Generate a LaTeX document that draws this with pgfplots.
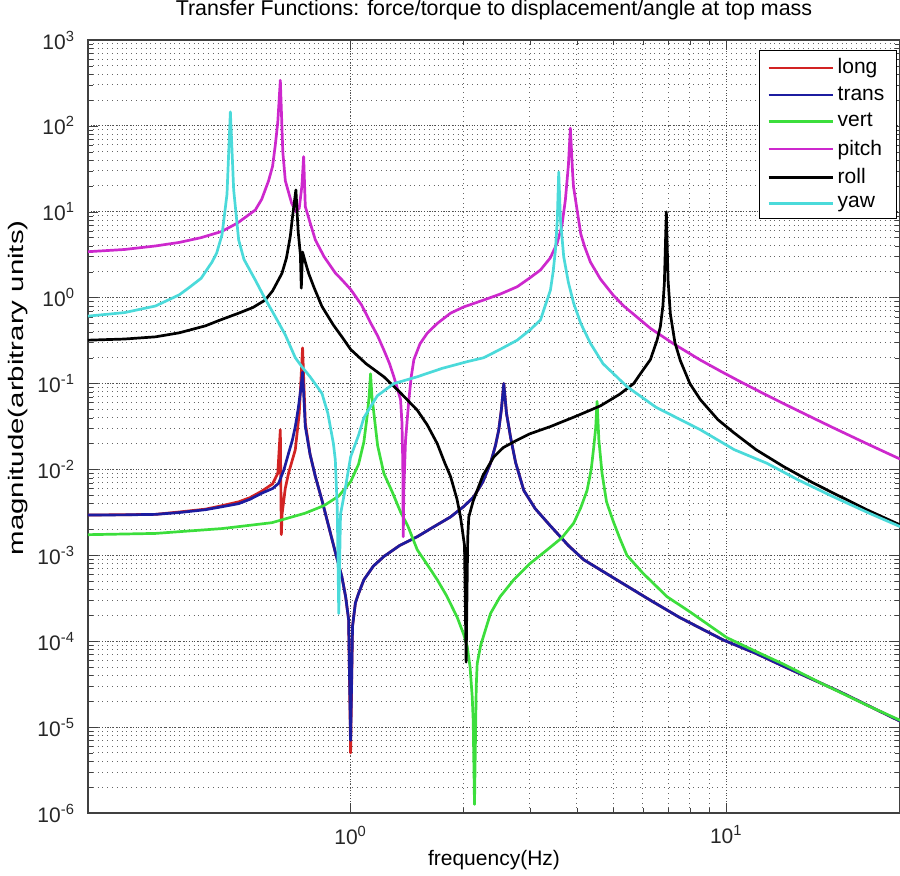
\documentclass[border=0pt]{standalone}
\usepackage{fontspec}
\setmainfont{Liberation Sans}
\usepackage{pgfplots}
\pgfplotsset{compat=1.18}
\definecolor{clong}{RGB}{210,35,35}
\definecolor{ctrans}{RGB}{28,28,160}
\definecolor{cvert}{RGB}{60,222,60}
\definecolor{cpitch}{RGB}{205,40,205}
\definecolor{croll}{RGB}{0,0,0}
\definecolor{cyaw}{RGB}{75,218,218}
\begin{document}
\begin{tikzpicture}
\begin{loglogaxis}[
  scale only axis,
  width=406pt, height=386.5pt,
  xmin=0.2, xmax=29, ymin=1e-6, ymax=1e3,
  xtick={1,10},
  ytick={1e-6,1e-5,1e-4,1e-3,1e-2,1e-1,1,10,100,1000},
  grid=both,
  major grid style={densely dotted, black!70, line width=0.5pt},
  minor grid style={dotted, black!60, line width=0.5pt},
  tick align=inside,
  axis line style={black!75, line width=0.8pt},
  major tick length=5pt, minor tick length=2.5pt,
  tick style={black!75},
  xticklabel={\pgfmathparse{int(round(\tick/ln(10)))}10\textsuperscript{\pgfmathresult}},
  yticklabel={\pgfmathparse{int(round(\tick/ln(10)))}10\textsuperscript{\pgfmathresult}},
  ticklabel style={font=\fontsize{10.5}{12}\selectfont, text=black!85},
  xticklabel style={anchor=center, yshift=-11pt},
  yticklabel style={anchor=east, xshift=-3pt},
  title={Transfer Functions: force/torque to displacement/angle at top mass},
  title style={font=\fontsize{10.7}{12}\selectfont, at={(axis description cs:0.5,1.0233)}, anchor=center},
  xlabel={frequency(Hz)},
  xlabel style={font=\fontsize{10.5}{12}\selectfont, at={(axis description cs:0.5,-0.0608)}, anchor=center},
  ylabel={magnitude(arbitrary units)},
  ylabel style={font=\fontsize{10.5}{12}\selectfont, at={(axis description cs:-0.0862,0.55)}, anchor=center, xscale=1.4},
  legend style={at={(1,1)}, anchor=north east, xshift=-1.5pt, yshift=-5pt,
    draw=black, line width=0.6pt, fill=white, font=\fontsize{10.5}{12}\selectfont,
    inner xsep=4pt, inner ysep=2pt, row sep=1pt},
  legend cell align=left,
  legend image code/.code={\draw[#1, line width=1.2pt] (0pt,0pt) -- (32pt,0pt);},
  every axis plot/.append style={line width=1.35pt, line join=round},
]
\addplot[clong] coordinates {(0.2,2.95e-3) (0.25,2.97e-3) (0.3024,3.0e-3) (0.35,3.2e-3) (0.4108,3.45e-3) (0.45,3.75e-3) (0.5036,4.2e-3) (0.54,4.7e-3) (0.5807,5.6e-3) (0.62,6.8e-3) (0.64,9e-3) (0.6501,2.9e-2) (0.6525,5e-3) (0.6542,1.74e-3) (0.657,3e-3) (0.67,6e-3) (0.684,9.1e-3) (0.7126,1.7e-2) (0.73,4.5e-2) (0.7452,0.26) (0.7577,3.5e-2) (0.78,1.5e-2) (0.8057,8.3e-3) (0.84,4.3e-3) (0.8738,2.2e-3) (0.91,1.1e-3) (0.9482,5.6e-4) (0.97,3.3e-4) (0.9878,1.8e-4) (1.0,5e-6) (1.012,1.5e-4) (1.03,2.8e-4) (1.0502,3.6e-4) (1.0849,5.2e-4) (1.15,7.5e-4) (1.2261,9.7e-4) (1.35,1.3e-3) (1.5047,1.65e-3) (1.68,2.2e-3) (1.845,2.8e-3) (2.0,3.7e-3) (2.128,4.8e-3) (2.25,7.2e-3) (2.3569,1.18e-2) (2.43,1.9e-2) (2.4799,2.9e-2) (2.52,5e-2) (2.5571,0.1) (2.6,4.5e-2) (2.6642,2.4e-2) (2.75,1.2e-2) (2.8907,5.7e-3) (3.1,3.5e-3) (3.4041,2.2e-3) (3.8,1.3e-3) (4.173,8.9e-4) (5.0,5.5e-4) (6.2806,3.0e-4) (7.5,1.9e-4) (9.836,1.03e-4) (12,7.2e-5) (14.21,5.1e-5) (20,2.6e-5) (29.03,1.17e-5)};
\addlegendentry{long}
\addplot[ctrans] coordinates {(0.2,2.95e-3) (0.25,2.96e-3) (0.3024,3.0e-3) (0.35,3.15e-3) (0.4108,3.4e-3) (0.45,3.65e-3) (0.5036,4.0e-3) (0.54,4.5e-3) (0.5807,5.3e-3) (0.62,6.0e-3) (0.6433,6.9e-3) (0.665,1.0e-2) (0.684,1.55e-2) (0.70,2.2e-2) (0.7126,3.16e-2) (0.725,5e-2) (0.738,9e-2) (0.7452,0.136) (0.7577,3.16e-2) (0.78,1.5e-2) (0.8057,8.3e-3) (0.84,4.3e-3) (0.8738,2.2e-3) (0.91,1.1e-3) (0.9482,5.6e-4) (0.97,3.3e-4) (0.9878,1.8e-4) (1.0,7e-6) (1.012,1.5e-4) (1.03,2.8e-4) (1.0502,3.6e-4) (1.0849,5.2e-4) (1.15,7.5e-4) (1.2261,9.7e-4) (1.35,1.3e-3) (1.5047,1.65e-3) (1.68,2.2e-3) (1.845,2.8e-3) (2.0,3.7e-3) (2.128,4.8e-3) (2.25,7.2e-3) (2.3569,1.18e-2) (2.43,1.9e-2) (2.4799,2.9e-2) (2.52,5e-2) (2.5571,0.1) (2.6,4.5e-2) (2.6642,2.4e-2) (2.75,1.2e-2) (2.8907,5.7e-3) (3.1,3.5e-3) (3.4041,2.2e-3) (3.8,1.3e-3) (4.173,8.9e-4) (5.0,5.5e-4) (6.2806,3.0e-4) (7.5,1.9e-4) (9.836,1.03e-4) (12,7.2e-5) (14.21,5.1e-5) (20,2.6e-5) (29.03,1.17e-5)};
\addlegendentry{trans}
\addplot[cvert] coordinates {(0.2,1.74e-3) (0.3024,1.8e-3) (0.4547,2.05e-3) (0.6174,2.4e-3) (0.7577,3.1e-3) (0.85,3.8e-3) (0.93,4.9e-3) (1.0,7.2e-3) (1.05,1.15e-2) (1.085,2.1e-2) (1.1076,4.3e-2) (1.12,7e-2) (1.1303,0.13) (1.14,7e-2) (1.1535,4.5e-2) (1.18,1.9e-2) (1.2261,9e-3) (1.29,5.5e-3) (1.3583,3.2e-3) (1.42,2.2e-3) (1.5047,1.16e-3) (1.6,7.8e-4) (1.7007,5.2e-4) (1.8,3.4e-4) (1.9223,1.9e-4) (2.0,1.2e-4) (2.0437,8.7e-5) (2.08,5e-5) (2.1072,2.26e-5) (2.12,1.2e-5) (2.137,1.26e-6) (2.16,3e-5) (2.1727,5.5e-5) (2.22,9e-5) (2.3569,2.1e-4) (2.5,3.3e-4) (2.7187,5.2e-4) (3.0,8e-4) (3.3359,1.16e-3) (3.65,1.6e-3) (3.9251,2.37e-3) (4.1,3.6e-3) (4.2606,5.7e-3) (4.37,1e-2) (4.4369,1.8e-2) (4.49,3e-2) (4.5299,6.2e-2) (4.58,2.2e-2) (4.67,9e-3) (4.8,4.2e-3) (5.0,2.5e-3) (5.2,1.6e-3) (5.44,1.0e-3) (6.0,6.2e-4) (6.956,3.3e-4) (8.0,2.2e-4) (10.04,1.1e-4) (12,7.6e-5) (14.21,5.4e-5) (18,3.2e-5) (24,1.75e-5) (29.03,1.2e-5)};
\addlegendentry{vert}
\addplot[cpitch] coordinates {(0.2,3.43) (0.25,3.64) (0.3024,4.0) (0.35,4.4) (0.4,5.0) (0.4539,5.9) (0.5,7.4) (0.5578,10.5) (0.58,14) (0.605,23) (0.62,34) (0.6304,60) (0.64,110) (0.6501,340) (0.66,50) (0.6703,23) (0.6967,12.6) (0.715,10) (0.73,11) (0.742,20) (0.7499,44) (0.7577,11.5) (0.78,7.5) (0.8057,4.7) (0.85,3.0) (0.9106,1.94) (0.95,1.6) (1.0,1.25) (1.07,0.82) (1.1303,0.51) (1.18,0.36) (1.2261,0.246) (1.27,0.17) (1.3035,0.12) (1.33,0.09) (1.3583,0.065) (1.37,0.035) (1.377,0.012) (1.381,1.65e-3) (1.386,6e-3) (1.4006,2.2e-2) (1.4293,6.5e-2) (1.45,0.12) (1.4738,0.19) (1.53,0.29) (1.5995,0.386) (1.7,0.5) (1.845,0.66) (2.0,0.78) (2.2622,0.94) (2.5,1.1) (2.7762,1.34) (3.0,1.7) (3.2018,2.1) (3.4,2.9) (3.5465,4.3) (3.65,6.8) (3.7303,13.7) (3.80,35) (3.8463,94) (3.9,28) (3.92,19.8) (4.0073,10.5) (4.1,5.5) (4.2,3.9) (4.3479,2.6) (4.6226,1.65) (5.0,1.07) (5.3324,0.8) (6.2806,0.44) (7.2423,0.29) (8.531,0.188) (9.639,0.14) (11,0.103) (12.83,0.073) (15,0.052) (19.29,0.0305) (24,0.0194) (29.03,0.0132)};
\addlegendentry{pitch}
\addplot[croll] coordinates {(0.2,0.32) (0.25,0.33) (0.3024,0.35) (0.35,0.39) (0.4108,0.47) (0.45,0.55) (0.5036,0.66) (0.55,0.77) (0.5929,0.94) (0.62,1.2) (0.6566,1.92) (0.675,2.9) (0.6911,5.2) (0.70,8.5) (0.7152,18) (0.725,6) (0.735,3.2) (0.7393,1.29) (0.745,3.4) (0.7577,2.6) (0.7733,1.92) (0.8,1.3) (0.839,0.79) (0.9,0.48) (0.9482,0.35) (1.0,0.25) (1.1,0.17) (1.2261,0.12) (1.35,0.08) (1.5047,0.049) (1.6,0.033) (1.7007,0.02) (1.78,0.012) (1.845,8.3e-3) (1.92,4.5e-3) (1.9617,2.8e-3) (2.01,1.3e-3) (2.03,5.7e-5) (2.05,1.6e-3) (2.0636,2.8e-3) (2.12,4.3e-3) (2.1727,5.7e-3) (2.25,8.5e-3) (2.4051,1.4e-2) (2.55,1.8e-2) (2.7762,2.2e-2) (3.0,2.6e-2) (3.4041,3.16e-2) (4.0,4.2e-2) (4.6226,5.5e-2) (5.2,7.5e-2) (5.6694,0.1) (5.9066,0.13) (6.2806,0.19) (6.5432,0.32) (6.6771,0.46) (6.78,0.8) (6.8421,1.47) (6.9261,10) (7.0,1.6) (7.0985,0.65) (7.3,0.3) (7.5469,0.185) (8.0,0.1) (8.531,0.065) (9.5,0.038) (10.45,0.027) (12,0.017) (14.21,0.0108) (17,7e-3) (19.29,5.3e-3) (24,3.3e-3) (29.03,2.26e-3)};
\addlegendentry{roll}
\addplot[cyaw] coordinates {(0.2,0.61) (0.25,0.67) (0.3024,0.8) (0.35,1.08) (0.3708,1.3) (0.4,1.68) (0.4277,2.6) (0.44,3.3) (0.4547,5.4) (0.4688,16) (0.4786,146) (0.4884,18) (0.5036,4.7) (0.52,2.8) (0.5578,1.6) (0.59,1.0) (0.6304,0.6) (0.67,0.37) (0.7126,0.2) (0.742,0.157) (0.78,0.12) (0.839,0.077) (0.87,0.045) (0.90,0.02) (0.9106,1.29e-2) (0.9215,3.5e-3) (0.93,2.1e-4) (0.94,3e-3) (0.9681,6e-3) (1.0,1.4e-2) (1.05,2.5e-2) (1.0849,4e-2) (1.1776,7.2e-2) (1.3035,0.1) (1.5047,0.12) (1.75,0.15) (2.0437,0.18) (2.2622,0.2) (2.5,0.25) (2.7762,0.32) (3.0,0.42) (3.2018,0.55) (3.2674,0.72) (3.4041,1.23) (3.46,2.0) (3.5099,3.6) (3.55,8) (3.581,29) (3.62,8) (3.6922,3.0) (3.8,1.5) (3.9251,0.86) (4.1,0.5) (4.3479,0.295) (4.7,0.17) (5.4443,0.092) (6.5,0.053) (8.531,0.029) (10.5,0.017) (12.83,0.0118) (15.5,7.6e-3) (19.29,4.8e-3) (24,3.1e-3) (29.03,2.16e-3)};
\addlegendentry{yaw}
\end{loglogaxis}
\pgfresetboundingbox
\useasboundingbox (-44pt,-31pt) rectangle (406pt,406.5pt);
\end{tikzpicture}
\end{document}
